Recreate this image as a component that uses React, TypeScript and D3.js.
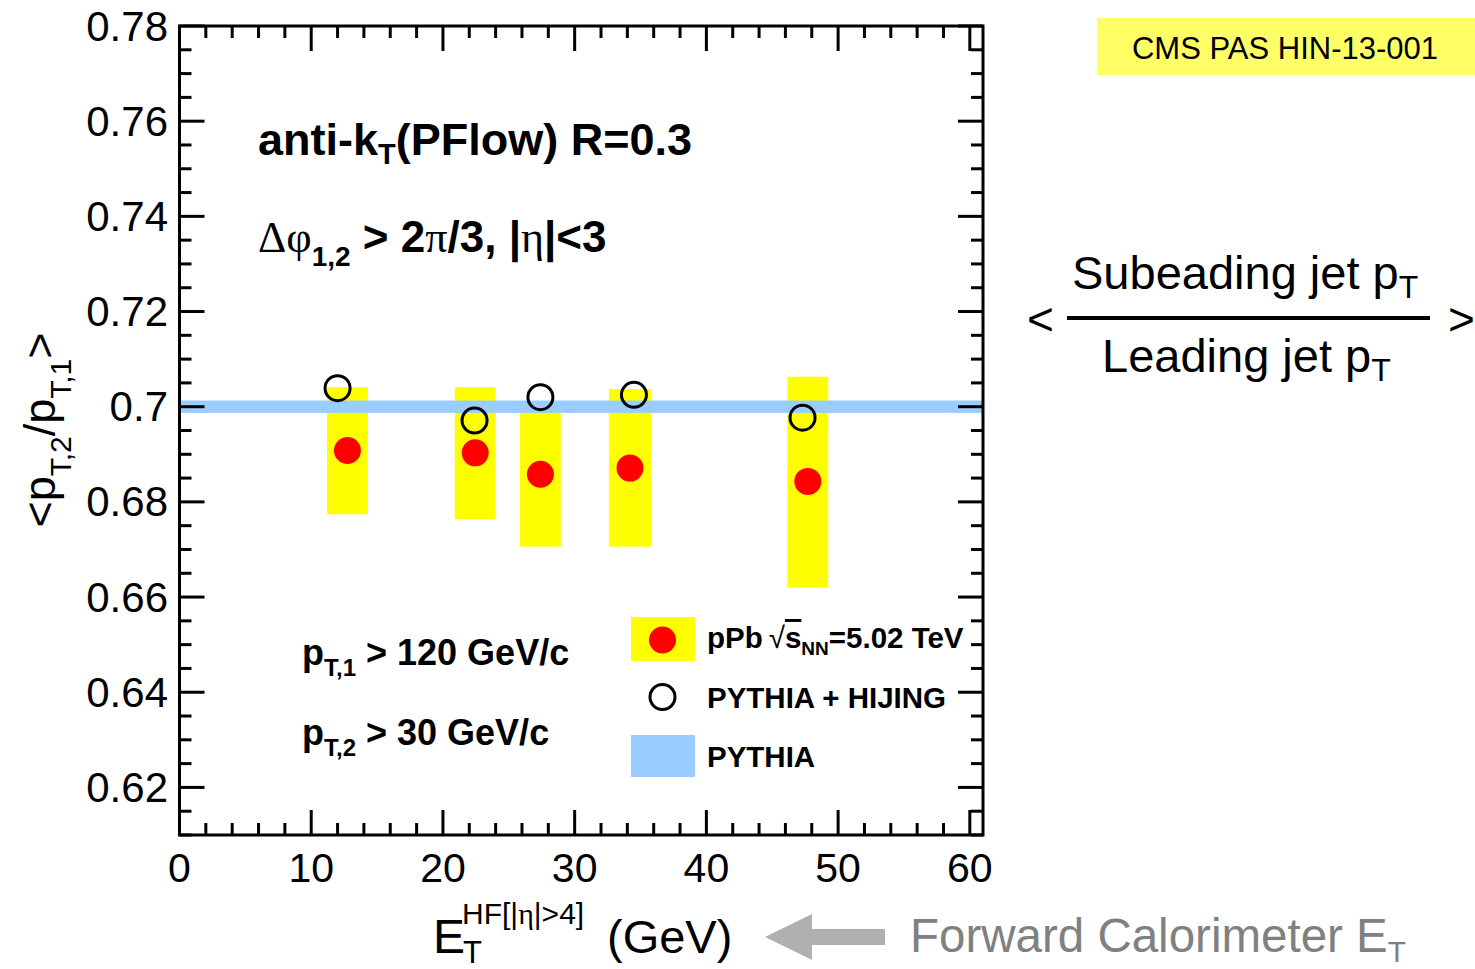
import React from "react";
import * as d3 from "d3";

// pPb measurement: mean subleading/leading jet pT ratio vs forward calorimeter ET
const etBins = [12.75, 22.45, 27.4, 34.2, 47.7];
const ratioPPb = [0.6908, 0.6903, 0.6858, 0.6871, 0.6843];
const sysLow = [0.6774, 0.6764, 0.6706, 0.6706, 0.662];
const sysHigh = [0.7041, 0.7041, 0.701, 0.7037, 0.7063];
const sysHalfWidth = [1.55, 1.55, 1.55, 1.6, 1.55];

// PYTHIA + HIJING embedded reference
const etHijing = [12.0, 22.4, 27.4, 34.5, 47.3];
const ratioHijing = [0.7039, 0.6971, 0.702, 0.7025, 0.6977];

// PYTHIA reference band
const pythiaRatio = 0.7;
const pythiaHalf = 0.0013;

const xMajorTicks = [0, 10, 20, 30, 40, 50, 60];
const yMajorTicks = [0.62, 0.64, 0.66, 0.68, 0.7, 0.72, 0.74, 0.76, 0.78];

const W = 1475;
const H = 969;
const left = 179.5;
const right = 983;
const top = 26;
const bottom = 835;

const SANS = "'Liberation Sans', Arial, Helvetica, sans-serif";
const SERIF = "'Liberation Serif', 'Times New Roman', serif";

export default function App() {
  const x = d3.scaleLinear().domain([0, 61]).range([left, right]);
  const y = d3.scaleLinear().domain([0.61, 0.78]).range([bottom, top]);

  const xMinor = d3.range(0, 61, 2).filter((v) => v % 10 !== 0);
  const yMinor = d3
    .range(0, 35)
    .map((i) => +(0.61 + i * 0.005).toFixed(3))
    .filter((v) => v <= 0.78 && !yMajorTicks.some((m) => Math.abs(m - v) < 1e-6));

  const majorLen = 25;
  const minorLen = 12;
  const tickStroke = 3;

  const fmtY = (v: number) => (Math.abs(v - 0.7) < 1e-9 ? "0.7" : d3.format(".2f")(v));

  return (
    <svg
      width={W}
      height={H}
      viewBox={`0 0 ${W} ${H}`}
      style={{ position: "absolute", left: 0, top: 0, background: "#fff" }}
      fontFamily={SANS}
    >
      <rect x={0} y={0} width={W} height={H} fill="#fff" />

      {/* systematic boxes */}
      {etBins.map((e, i) => (
        <rect
          key={"sys" + i}
          x={x(e - sysHalfWidth[i])}
          width={x(e + sysHalfWidth[i]) - x(e - sysHalfWidth[i])}
          y={y(sysHigh[i])}
          height={y(sysLow[i]) - y(sysHigh[i])}
          fill="#ffff00"
        />
      ))}

      {/* PYTHIA band */}
      <rect
        x={x(0)}
        width={x(61) - x(0)}
        y={y(pythiaRatio + pythiaHalf)}
        height={y(pythiaRatio - pythiaHalf) - y(pythiaRatio + pythiaHalf)}
        fill="#99ccff"
      />

      {/* pPb points */}
      {etBins.map((e, i) => (
        <circle key={"p" + i} cx={x(e)} cy={y(ratioPPb[i])} r={13.5} fill="#ff0000" />
      ))}

      {/* PYTHIA+HIJING open markers */}
      {etHijing.map((e, i) => (
        <circle
          key={"h" + i}
          cx={x(e)}
          cy={y(ratioHijing[i])}
          r={12.5}
          fill="none"
          stroke="#000"
          strokeWidth={3}
        />
      ))}

      {/* frame */}
      <rect
        x={left}
        y={top}
        width={right - left}
        height={bottom - top}
        fill="none"
        stroke="#000"
        strokeWidth={3}
      />

      {/* x ticks */}
      {xMajorTicks.map((v) => (
        <g key={"xM" + v}>
          <line x1={x(v)} x2={x(v)} y1={bottom} y2={bottom - majorLen} stroke="#000" strokeWidth={tickStroke} />
          <line x1={x(v)} x2={x(v)} y1={top} y2={top + majorLen} stroke="#000" strokeWidth={tickStroke} />
          <text x={x(v)} y={882} fontSize={41} textAnchor="middle">
            {v}
          </text>
        </g>
      ))}
      {xMinor.map((v) => (
        <g key={"xm" + v}>
          <line x1={x(v)} x2={x(v)} y1={bottom} y2={bottom - minorLen} stroke="#000" strokeWidth={tickStroke} />
          <line x1={x(v)} x2={x(v)} y1={top} y2={top + minorLen} stroke="#000" strokeWidth={tickStroke} />
        </g>
      ))}

      {/* y ticks */}
      {yMajorTicks.map((v) => (
        <g key={"yM" + v}>
          <line x1={left} x2={left + majorLen} y1={y(v)} y2={y(v)} stroke="#000" strokeWidth={tickStroke} />
          <line x1={right} x2={right - majorLen} y1={y(v)} y2={y(v)} stroke="#000" strokeWidth={tickStroke} />
          <text x={168} y={y(v) + 14.5} fontSize={42} textAnchor="end">
            {fmtY(v)}
          </text>
        </g>
      ))}
      {yMinor.map((v) => (
        <g key={"ym" + v}>
          <line x1={left} x2={left + minorLen} y1={y(v)} y2={y(v)} stroke="#000" strokeWidth={tickStroke} />
          <line x1={right} x2={right - minorLen} y1={y(v)} y2={y(v)} stroke="#000" strokeWidth={tickStroke} />
        </g>
      ))}

      {/* annotations inside the frame */}
      <text x={258} y={155} fontSize={45} fontWeight="bold">
        anti-k
        <tspan fontSize={29} dy={9}>T</tspan>
        <tspan dy={-9}>(PFlow) R=0.3</tspan>
      </text>
      <text x={258} y={252} fontSize={44} fontWeight="bold">
        <tspan fontFamily={SERIF} fontWeight="normal">Δφ</tspan>
        <tspan fontSize={28} dy={14}>1,2</tspan>
        <tspan dy={-14}> &gt; 2</tspan>
        <tspan fontFamily={SERIF} fontWeight="normal">π</tspan>
        <tspan>/3, |</tspan>
        <tspan fontFamily={SERIF} fontWeight="normal">η</tspan>
        <tspan>|&lt;3</tspan>
      </text>

      <text x={302} y={665} fontSize={36} fontWeight="bold">
        p
        <tspan fontSize={24} dy={11}>T,1</tspan>
        <tspan dy={-11}> &gt; 120 GeV/c</tspan>
      </text>
      <text x={302} y={745} fontSize={36} fontWeight="bold">
        p
        <tspan fontSize={24} dy={11}>T,2</tspan>
        <tspan dy={-11}> &gt; 30 GeV/c</tspan>
      </text>

      {/* legend */}
      <rect x={631} y={617} width={64} height={44} fill="#ffff00" />
      <circle cx={662.5} cy={640} r={13.5} fill="#ff0000" />
      <text x={707} y={648} fontSize={29.5} fontWeight="bold">
        pPb
        <tspan dx={6} fontWeight="normal">√</tspan>
        <tspan style={{ textDecoration: "overline" }}>s</tspan>
        <tspan fontSize={19} dy={7}>NN</tspan>
        <tspan dy={-7}>=5.02 TeV</tspan>
      </text>
      <circle cx={662.5} cy={697} r={12.5} fill="none" stroke="#000" strokeWidth={3} />
      <text x={707} y={708} fontSize={29.5} fontWeight="bold">
        PYTHIA + HIJING
      </text>
      <rect x={631} y={735} width={64} height={42} fill="#99ccff" />
      <text x={707} y={767} fontSize={29.5} fontWeight="bold">
        PYTHIA
      </text>

      {/* y axis title */}
      <text transform="translate(55,430) rotate(-90)" fontSize={45} textAnchor="middle">
        &lt;p
        <tspan fontSize={30} dy={16}>T,2</tspan>
        <tspan dy={-16}>/p</tspan>
        <tspan fontSize={30} dy={16}>T,1</tspan>
        <tspan dy={-16}>&gt;</tspan>
      </text>

      {/* x axis title */}
      <text x={433} y={953} fontSize={48}>
        E
        <tspan fontSize={31} dy={10} dx={-2}>T</tspan>
      </text>
      <text x={462} y={924} fontSize={30}>
        HF[|<tspan fontFamily={SERIF}>η</tspan>|&gt;4]
      </text>
      <text x={607} y={953} fontSize={47}>
        (GeV)
      </text>

      {/* arrow and forward calorimeter note */}
      <polygon
        points="765,937 812,914 812,929 885,929 885,945 812,945 812,960"
        fill="#b0b0b0"
      />
      <text x={910} y={952} fontSize={47.5} fill="#808080">
        Forward Calorimeter E
        <tspan fontSize={30} dy={10}>T</tspan>
      </text>

      {/* reference tag */}
      <rect x={1097} y={18} width={378} height={57} fill="#ffff66" />
      <text x={1285} y={59} fontSize={31} textAnchor="middle">
        CMS PAS HIN-13-001
      </text>

      {/* ratio definition */}
      <text x={1027} y={335} fontSize={46}>
        &lt;
      </text>
      <text x={1072} y={289} fontSize={47}>
        Subeading jet p
        <tspan fontSize={32} dy={9}>T</tspan>
      </text>
      <rect x={1067} y={316} width={363} height={4} fill="#000" />
      <text x={1102} y={372} fontSize={47}>
        Leading jet p
        <tspan fontSize={32} dy={9}>T</tspan>
      </text>
      <text x={1448} y={335} fontSize={46}>
        &gt;
      </text>
    </svg>
  );
}
